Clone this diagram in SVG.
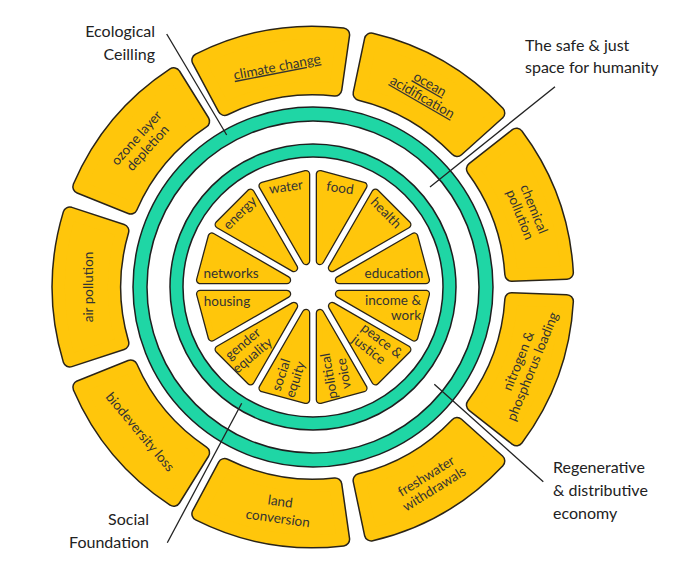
<svg xmlns="http://www.w3.org/2000/svg" width="681" height="573" viewBox="0 0 681 573">
<style>
.so{fill:#2a2418;stroke:#2a2418;stroke-width:15;stroke-linejoin:round}
.sf{fill:#ffc60b;stroke:#ffc60b;stroke-width:12;stroke-linejoin:round}
.wo{fill:#2a2418;stroke:#2a2418;stroke-width:8.6;stroke-linejoin:round}
.wf{fill:#ffc60b;stroke:#ffc60b;stroke-width:6;stroke-linejoin:round}
.ro{fill:none;stroke:#1f1f1f}
.rf{fill:none;stroke:#1fd6a5}
text{font-family:Lato,"Open Sans","Liberation Sans",sans-serif}
.t{font-size:13.5px;fill:#333;text-anchor:middle}
.u{text-decoration:underline}
.lab{font-size:16px;fill:#222}
.ln{stroke:#222;stroke-width:1.3;fill:none}
</style>
<defs>
<path id="s1" d="M198.67,60.18 A254,254 0 0 1 342.85,34.76 L335.08,89.23 A199,199 0 0 0 224.61,108.71 Z"/>
<path id="s2" d="M79.63,186.74 A254,254 0 0 1 173.73,74.58 L202.79,121.30 A199,199 0 0 0 130.68,207.23 Z"/>
<path id="s3" d="M69.78,360.20 A254,254 0 0 1 69.78,213.80 L122.07,230.91 A199,199 0 0 0 122.07,343.09 Z"/>
<path id="s4" d="M173.73,499.42 A254,254 0 0 1 79.63,387.26 L130.68,366.77 A199,199 0 0 0 202.79,452.70 Z"/>
<path id="s5" d="M342.85,539.24 A254,254 0 0 1 198.67,513.82 L224.61,465.29 A199,199 0 0 0 335.08,484.77 Z"/>
<path id="s6" d="M498.01,461.04 A254,254 0 0 1 371.22,534.24 L359.90,480.40 A199,199 0 0 0 457.04,424.31 Z"/>
<path id="s7" d="M566.59,301.40 A254,254 0 0 1 516.52,438.98 L473.24,405.01 A199,199 0 0 0 511.60,299.40 Z"/>
<path id="s8" d="M516.52,135.02 A254,254 0 0 1 566.59,272.60 L511.60,274.40 A199,199 0 0 0 473.24,168.99 Z"/>
<path id="s9" d="M371.22,39.76 A254,254 0 0 1 498.01,112.96 L457.04,149.69 A199,199 0 0 0 359.90,93.60 Z"/>
<polygon id="w1" points="339.08,280.01 425.78,280.00 414.17,236.67"/>
<polygon id="w2" points="332.09,267.91 407.18,224.55 375.45,192.82"/>
<polygon id="w3" points="319.99,260.92 363.33,185.83 320.00,174.22"/>
<polygon id="w4" points="306.01,260.92 306.00,174.22 262.67,185.83"/>
<polygon id="w5" points="293.91,267.91 250.55,192.82 218.82,224.55"/>
<polygon id="w6" points="286.92,280.01 211.83,236.67 200.22,280.00"/>
<polygon id="w7" points="286.92,293.99 200.22,294.00 211.83,337.33"/>
<polygon id="w8" points="293.91,306.09 218.82,349.45 250.55,381.18"/>
<polygon id="w9" points="306.01,313.08 262.67,388.17 306.00,399.78"/>
<polygon id="w10" points="319.99,313.08 320.00,399.78 363.33,388.17"/>
<polygon id="w11" points="332.09,306.09 375.45,381.18 407.18,349.45"/>
<polygon id="w12" points="339.08,293.99 414.17,337.33 425.78,294.00"/>
</defs>
<rect width="681" height="573" fill="#fff"/>

<g id="ecological-ceiling-ring">
<circle class="ro" cx="313" cy="287" r="173" stroke-width="15.5"/>
<circle class="rf" cx="313" cy="287" r="173" stroke-width="12.5"/>
</g>
<g id="social-foundation-ring">
<circle class="ro" cx="313" cy="287" r="136.5" stroke-width="14.5"/>
<circle class="rf" cx="313" cy="287" r="136.5" stroke-width="11.5"/>
</g>

<g id="education"><use href="#w1" class="wo"/><use href="#w1" class="wf"/><text class="t" x="394" y="277.5">education</text></g>
<g id="health"><use href="#w2" class="wo"/><use href="#w2" class="wf"/><text class="t" transform="translate(386,213) rotate(45)" y="4.5">health</text></g>
<g id="food"><use href="#w3" class="wo"/><use href="#w3" class="wf"/><text class="t" transform="translate(340,188) rotate(8)" y="4.5">food</text></g>
<g id="water"><use href="#w4" class="wo"/><use href="#w4" class="wf"/><text class="t" transform="translate(286,187) rotate(-8)" y="4.5">water</text></g>
<g id="energy"><use href="#w5" class="wo"/><use href="#w5" class="wf"/><text class="t" transform="translate(240,213) rotate(-45)" y="4.5">energy</text></g>
<g id="networks"><use href="#w6" class="wo"/><use href="#w6" class="wf"/><text class="t" x="231" y="277.5">networks</text></g>
<g id="housing"><use href="#w7" class="wo"/><use href="#w7" class="wf"/><text class="t" x="227" y="306">housing</text></g>
<g id="gender-equality"><use href="#w8" class="wo"/><use href="#w8" class="wf"/><text class="t" transform="translate(248,350) rotate(-40)"><tspan x="0" y="-3.5">gender</tspan><tspan x="0" y="11.5">equality</tspan></text></g>
<g id="social-equity"><use href="#w9" class="wo"/><use href="#w9" class="wf"/><text class="t" transform="translate(288.7,377.3) rotate(-72)"><tspan x="0" y="-3.5">social</tspan><tspan x="0" y="11.5">equity</tspan></text></g>
<g id="political-voice"><use href="#w10" class="wo"/><use href="#w10" class="wf"/><text class="t" transform="translate(337,374.7) rotate(-100)"><tspan x="0" y="-3.5">political</tspan><tspan x="0" y="11.5">voice</tspan></text></g>
<g id="peace-justice"><use href="#w11" class="wo"/><use href="#w11" class="wf"/><text class="t" transform="translate(375,345.5) rotate(38)"><tspan x="2.5" y="-3.5">peace &amp;</tspan><tspan x="-2.5" y="11.5">justice</tspan></text></g>
<g id="income-work"><use href="#w12" class="wo"/><use href="#w12" class="wf"/><text class="t" style="text-anchor:end"><tspan x="421" y="305">income &amp;</tspan><tspan x="421" y="320">work</tspan></text></g>

<g id="climate-change"><use href="#s1" class="so"/><use href="#s1" class="sf"/><text class="t u" transform="translate(277,67) rotate(-11)" y="4.5">climate change</text></g>
<g id="ozone-layer-depletion"><use href="#s2" class="so"/><use href="#s2" class="sf"/><text class="t" transform="translate(142.5,143.3) rotate(-48)"><tspan x="0" y="-3.5">ozone layer</tspan><tspan x="0" y="11.5">depletion</tspan></text></g>
<g id="air-pollution"><use href="#s3" class="so"/><use href="#s3" class="sf"/><text class="t" transform="translate(88,287) rotate(-90)" y="4.5">air pollution</text></g>
<g id="biodiversity-loss"><use href="#s4" class="so"/><use href="#s4" class="sf"/><text class="t" transform="translate(140,432) rotate(50)" y="4.5">biodeversity loss</text></g>
<g id="land-conversion"><use href="#s5" class="so"/><use href="#s5" class="sf"/><text class="t" transform="translate(279,510.5) rotate(8)"><tspan x="0" y="-4.5">land</tspan><tspan x="0" y="12.5">conversion</tspan></text></g>
<g id="freshwater-withdrawals"><use href="#s6" class="so"/><use href="#s6" class="sf"/><text class="t" transform="translate(430.5,483) rotate(-32)"><tspan x="0" y="-3.5">freshwater</tspan><tspan x="0" y="11.5">withdrawals</tspan></text></g>
<g id="nitrogen-phosphorus-loading"><use href="#s7" class="so"/><use href="#s7" class="sf"/><text class="t" transform="translate(526,364) rotate(-68)"><tspan x="0" y="-3.5">nitrogen &amp;</tspan><tspan x="0" y="11.5">phosphorus loading</tspan></text></g>
<g id="chemical-pollution"><use href="#s8" class="so"/><use href="#s8" class="sf"/><text class="t" transform="translate(526.5,212) rotate(68)"><tspan x="0" y="-3.5">chemical</tspan><tspan x="0" y="11.5">pollution</tspan></text></g>
<g id="ocean-acidification"><use href="#s9" class="so"/><use href="#s9" class="sf"/><text class="t u" transform="translate(426,91) rotate(30)"><tspan x="0" y="-3.5">ocean</tspan><tspan x="0" y="11.5">acidification</tspan></text></g>

<g id="connectors">
<line class="ln" x1="166.7" y1="34" x2="226.7" y2="135"/>
<line class="ln" x1="555" y1="86.7" x2="430" y2="187"/>
<line class="ln" x1="543.3" y1="481.7" x2="434.3" y2="384.3"/>
<line class="ln" x1="167.3" y1="542.7" x2="241.7" y2="403.3"/>
</g>

<g id="label-ecological-ceiling"><text class="lab" text-anchor="end"><tspan x="155" y="37">Ecological</tspan><tspan x="155" y="60">Ceilling</tspan></text></g>
<g id="label-safe-space"><text class="lab"><tspan x="525" y="50.5">The safe &amp; just</tspan><tspan x="525" y="73">space for humanity</tspan></text></g>
<g id="label-regenerative"><text class="lab"><tspan x="553" y="473">Regenerative</tspan><tspan x="553" y="496">&amp; distributive</tspan><tspan x="553" y="519">economy</tspan></text></g>
<g id="label-social-foundation"><text class="lab" text-anchor="end"><tspan x="149" y="525">Social</tspan><tspan x="149" y="548">Foundation</tspan></text></g>
</svg>
